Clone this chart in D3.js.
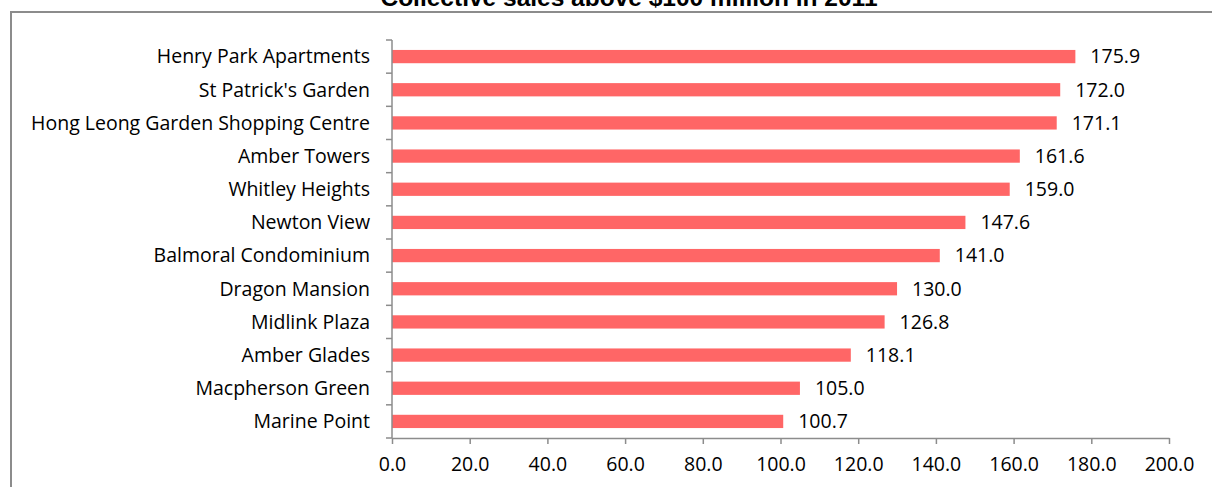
<!DOCTYPE html>
<html>
<head>
<meta charset="utf-8">
<script src="https://cdn.jsdelivr.net/npm/d3@7"></script>
<style>
  html, body { margin: 0; padding: 0; background: #fff; overflow: hidden; }
  svg { display: block; }
</style>
</head>
<body>
<svg id="chart" width="1212" height="487"></svg>
<script>
const categories = [
  "Henry Park Apartments",
  "St Patrick's Garden",
  "Hong Leong Garden Shopping Centre",
  "Amber Towers",
  "Whitley Heights",
  "Newton View",
  "Balmoral Condominium",
  "Dragon Mansion",
  "Midlink Plaza",
  "Amber Glades",
  "Macpherson Green",
  "Marine Point"
];
const values = [175.9, 172.0, 171.1, 161.6, 159.0, 147.6, 141.0, 130.0, 126.8, 118.1, 105.0, 100.7];
const xTicks = [0, 20, 40, 60, 80, 100, 120, 140, 160, 180, 200];
const title = "Collective sales above $100 million in 2011";

const svg = d3.select("#chart");
const labelFont = "'Open Sans', Lato, sans-serif";
const labelSize = 19.5;

// frame
svg.append("path")
  .attr("d", "M11,490 L11,12 L1215,12")
  .attr("fill", "none")
  .attr("stroke", "#8c8c8c")
  .attr("stroke-width", 2);

// title (clipped at the top of the picture, as in the reference)
svg.append("text")
  .attr("x", 629)
  .attr("y", 6)
  .attr("text-anchor", "middle")
  .attr("font-family", "'Liberation Sans', Arial, sans-serif")
  .attr("font-weight", "bold")
  .attr("font-size", 24.5)
  .attr("fill", "#000")
  .text(title);

const x = d3.scaleLinear().domain([0, 200]).range([392, 1169]);
const y = d3.scaleBand().domain(categories).range([40, 438]).paddingInner(0.6).paddingOuter(0.3);

// bars
svg.append("g").selectAll("rect")
  .data(values)
  .join("rect")
  .attr("x", x(0))
  .attr("y", (d, i) => y(categories[i]))
  .attr("width", d => x(d) - x(0))
  .attr("height", y.bandwidth())
  .attr("fill", "#ff6666");

// value labels
svg.append("g").selectAll("text")
  .data(values)
  .join("text")
  .attr("x", d => x(d) + 15)
  .attr("y", (d, i) => y(categories[i]) + y.bandwidth() / 2)
  .attr("dy", "0.35em")
  .attr("font-family", labelFont)
  .attr("font-size", labelSize)
  .attr("fill", "#000")
  .text(d => d.toFixed(1));

// y axis with ticks at band boundaries
const yAxisG = svg.append("g");
yAxisG.append("line")
  .attr("x1", x(0)).attr("x2", x(0))
  .attr("y1", 40).attr("y2", 438)
  .attr("stroke", "#8c8c8c").attr("stroke-width", 1.5);
const boundaries = d3.range(categories.length + 1).map(i => 40 + i * y.step());
yAxisG.selectAll("line.tick")
  .data(boundaries)
  .join("line")
  .attr("class", "tick")
  .attr("x1", x(0) - 6).attr("x2", x(0))
  .attr("y1", d => d).attr("y2", d => d)
  .attr("stroke", "#8c8c8c").attr("stroke-width", 1.5);
yAxisG.selectAll("text")
  .data(categories)
  .join("text")
  .attr("x", x(0) - 22)
  .attr("y", d => y(d) + y.bandwidth() / 2)
  .attr("dy", "0.35em")
  .attr("text-anchor", "end")
  .attr("font-family", labelFont)
  .attr("font-size", labelSize)
  .attr("fill", "#000")
  .text(d => d);

// x axis
const xAxis = d3.axisBottom(x)
  .tickValues(xTicks)
  .tickFormat(d => d.toFixed(1))
  .tickSize(6)
  .tickSizeOuter(0)
  .tickPadding(13);
const xg = svg.append("g").attr("transform", "translate(0,438)").call(xAxis);
xg.select(".domain").attr("stroke", "#8c8c8c").attr("stroke-width", 1.5);
xg.selectAll(".tick line").attr("stroke", "#8c8c8c").attr("stroke-width", 1.5);
xg.selectAll(".tick text")
  .attr("font-family", labelFont)
  .attr("font-size", labelSize)
  .attr("fill", "#000");
</script>
</body>
</html>
